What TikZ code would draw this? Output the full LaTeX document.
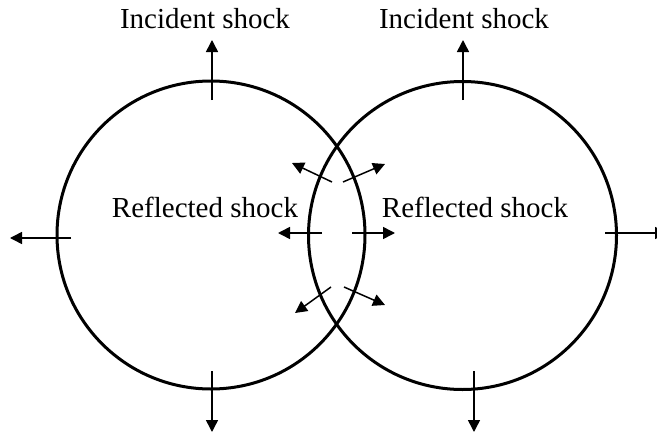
\documentclass[tikz,border=0pt]{standalone}
\usepackage{fontspec}
\setmainfont{Liberation Serif}
\usetikzlibrary{arrows.meta}
\tikzset{
  shockring/.style ={circle, draw, line width=3pt, minimum size=308pt, inner sep=0pt},
  wave/.style ={-{Triangle[length=12pt,width=12pt]}, line width=1.5pt},
  shocklabel/.style ={font=\fontsize{29}{34}\selectfont, inner sep=0pt, anchor=base},
}
\begin{document}
\begin{tikzpicture}[x=1pt, y=-1pt]
\clip (0,0) rectangle (657,434);
\node[shockring] (lring) at (211,235) {};
\node[shockring] (rring) at (462.5,235.5) {};
\node[shocklabel] (linc) at (205,28) {Incident shock};
\node[shocklabel] (rinc) at (464,28) {Incident shock};
\node[shocklabel] (lref) at (205,217) {Reflected shock};
\node[shocklabel] (rref) at (475,217) {Reflected shock};
% outgoing waves
\foreach \n/\ax/\ay/\bx/\by in {lt/212/100/212/40, ll/71/238/10/238, lb/212/371/212/432,
    rt/463/100/463/40, rr/605/233/667/233, rb/474/371/474/432,
    ml/322/233/278/233, mr/352/233/395/233,
    ul/332/182/292/163, ur/343/182/385/164,
    dl/331/287/295/313, dr/344/287/385/305} {
  \coordinate (\n-s) at (\ax,\ay);
  \coordinate (\n-e) at (\bx,\by);
  \draw[wave] (\n-s) -- (\n-e);
}
\end{tikzpicture}
\end{document}
